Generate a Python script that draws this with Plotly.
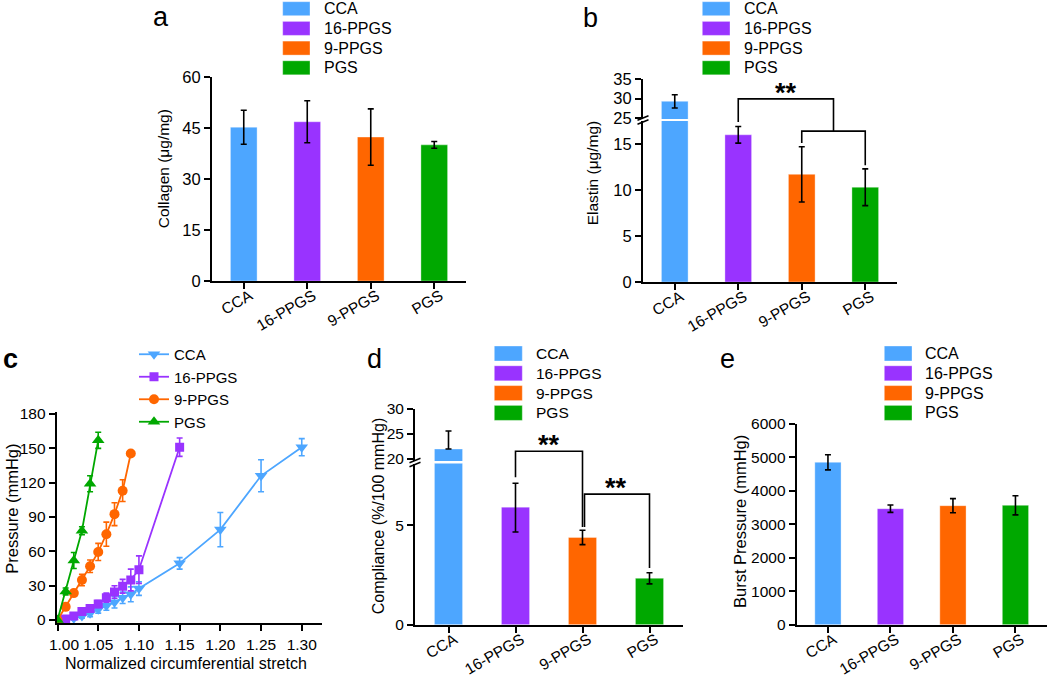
import plotly.graph_objects as go

W, H = 1050, 675
FONT = "Liberation Sans, Arial, sans-serif"

groups = ["CCA", "16-PPGS", "9-PPGS", "PGS"]
colors = ["#4DA6FF", "#9933FF", "#FF6600", "#00A800"]

# a: collagen
collagen = [45.3, 46.9, 42.4, 40.1]
collagen_err = [5.0, 6.2, 8.3, 1.0]

# b: elastin
elastin = [29.3, 16.0, 11.7, 10.3]
elastin_err = [1.7, 0.9, 3.0, 2.0]

# c: pressure vs stretch
stretch_cca = [1.00, 1.01, 1.02, 1.03, 1.04, 1.05, 1.06, 1.07, 1.08, 1.09, 1.10, 1.15, 1.20, 1.25, 1.30]
pressure_cca = [0, 0.5, 1.5, 3.5, 6, 9.5, 12.5, 15.5, 19.5, 22.5, 27.5, 49.5, 79, 126, 151]
pressure_cca_err = [0, 1, 1.5, 2, 3, 3.5, 4, 5, 5, 6.5, 6, 5, 15, 14, 7.5]

stretch_16 = [1.00, 1.01, 1.02, 1.03, 1.04, 1.05, 1.06, 1.07, 1.08, 1.09, 1.10, 1.15]
pressure_16 = [0, 1, 3.5, 7.5, 10, 14, 19.5, 24.5, 29.5, 35, 44, 151]
pressure_16_err = [0, 1, 1.5, 2, 2, 3, 4, 5.5, 6, 9.5, 12, 8]

stretch_9 = [1.00, 1.01, 1.02, 1.03, 1.04, 1.05, 1.06, 1.07, 1.08, 1.09]
pressure_9 = [0, 11.5, 23.5, 35, 47, 59.5, 75, 92.5, 113, 145.5]
pressure_9_err = [0, 2, 2, 5, 5.5, 7.5, 10.5, 10, 9.5, 2]

stretch_pgs = [1.00, 1.01, 1.02, 1.03, 1.04, 1.05]
pressure_pgs = [0, 25, 52, 78, 119, 157]
pressure_pgs_err = [0, 3, 7, 3.5, 7, 7]

# d: compliance
compliance = [22.0, 5.9, 4.38, 2.33]
compliance_err_up = [3.6, 1.2, 0.36, 0.28]
compliance_err_down = [0, 1.25, 0.36, 0.28]

# e: burst pressure
burst = [4855, 3468, 3558, 3569]
burst_err = [225, 110, 210, 285]

positions = list(range(len(groups)))


def fx(x):
    return x / W


def fy(y):
    return 1 - y / H


fig = go.Figure()

edge = "rgba(255,255,255,0.35)"


def add_bars(values, up, down, xa, ya):
    fig.add_trace(go.Bar(
        x=positions, y=values, width=0.42,
        marker=dict(color=colors, line=dict(color=edge, width=1)),
        error_y=dict(type="data", symmetric=False, array=up, arrayminus=down,
                     color="black", thickness=1.6, width=3),
        xaxis=xa, yaxis=ya, showlegend=False, hoverinfo="skip"))


add_bars(collagen, collagen_err, collagen_err, "x", "y")
add_bars(elastin, elastin_err, elastin_err, "x2", "y2")
add_bars(elastin, elastin_err, elastin_err, "x3", "y3")
add_bars(compliance, compliance_err_up, compliance_err_down, "x6", "y6")
add_bars(compliance, compliance_err_up, compliance_err_down, "x7", "y7")
add_bars(burst, burst_err, burst_err, "x9", "y9")

# c: curves
curves = [
    ("CCA", stretch_cca, pressure_cca, pressure_cca_err, "triangle-down", 11),
    ("16-PPGS", stretch_16, pressure_16, pressure_16_err, "square", 9),
    ("9-PPGS", stretch_9, pressure_9, pressure_9_err, "circle", 10),
    ("PGS", stretch_pgs, pressure_pgs, pressure_pgs_err, "triangle-up", 11),
]
for (name, xs, ys, es, sym, size), col in zip(curves, colors):
    fig.add_trace(go.Scatter(
        x=xs, y=ys, name=name, mode="lines+markers",
        line=dict(color=col, width=1.8),
        marker=dict(symbol=sym, size=size, color=col),
        error_y=dict(type="data", array=es, color=col, thickness=1.6, width=3),
        xaxis="x5", yaxis="y5", legend="legend"))

# significance brackets
brackets_b = [
    ([1, 1, 2.5, 2.5], [17.4, 19.9, 19.9, 16.4]),
    ([2, 2, 3, 3], [15.1, 16.4, 16.4, 12.7]),
]
brackets_d = [
    ([1, 1, 2, 2], [7.4, 8.7, 8.7, 4.9]),
    ([2.03, 2.03, 3, 3], [4.9, 6.55, 6.55, 2.85]),
]
for bx, by in brackets_b:
    fig.add_trace(go.Scatter(x=bx, y=by, mode="lines", line=dict(color="black", width=1.6),
                             xaxis="x2", yaxis="y4", showlegend=False, hoverinfo="skip"))
for bx, by in brackets_d:
    fig.add_trace(go.Scatter(x=bx, y=by, mode="lines", line=dict(color="black", width=1.6),
                             xaxis="x6", yaxis="y8", showlegend=False, hoverinfo="skip"))

stars = [("x2", "y4", 1.75, 19.9), ("x6", "y8", 1.5, 8.7), ("x6", "y8", 2.5, 6.55)]

axis_common = dict(showline=True, linecolor="black", linewidth=2, ticks="outside",
                   ticklen=6, tickwidth=2, tickcolor="black", showgrid=False,
                   zeroline=False, automargin=False,
                   tickfont=dict(family=FONT, size=16, color="black"))


def cat_x(x0, x1, anchor, visible=True):
    d = dict(axis_common, domain=[fx(x0), fx(x1)], range=[-0.5, 3.5],
             tickvals=positions, ticktext=groups, tickangle=-30, anchor=anchor,
             ticklabelshift=6, ticklabelstandoff=-8,
             tickfont=dict(family=FONT, size=15.5, color="black"))
    if not visible:
        d.update(visible=False)
    return d


def val_y(y0, y1, rng, ticks, anchor, size=16):
    return dict(axis_common, domain=[fy(y0), fy(y1)], range=rng, tickvals=ticks,
                anchor=anchor, tickfont=dict(family=FONT, size=size, color="black"))


layout = dict(
    width=W, height=H, margin=dict(l=0, r=0, t=0, b=0, autoexpand=False),
    paper_bgcolor="white", plot_bgcolor="rgba(0,0,0,0)",
    font=dict(family=FONT, color="black"),
    barmode="overlay",
    xaxis=cat_x(212, 466, "y"),
    yaxis=val_y(281, 77.3, [0, 60], [0, 15, 30, 45, 60], "x", 16.5),
    xaxis2=cat_x(643, 897, "y2"),
    yaxis2=val_y(282, 121, [0, 17.5], [0, 5, 10, 15], "x2", 16.5),
    xaxis3=cat_x(643, 897, "y3", visible=False),
    yaxis3=val_y(119, 79, [24.8, 35], [25, 30, 35], "x3", 16.5),
    yaxis4=dict(domain=[fy(282), fy(79)], range=[0, 203 / 9.2], visible=False, anchor="x2"),
    xaxis5=dict(axis_common, domain=[fx(56.7), fx(321.7)], range=[0.999, 1.3245],
                tickvals=[1.00, 1.05, 1.10, 1.15, 1.20, 1.25, 1.30],
                ticktext=["\u00a0\u00a0\u00a01.00", "1.05", "1.10", "1.15", "1.20", "1.25", "1.30"],
                tickfont=dict(family=FONT, size=15.5, color="black"), anchor="y5"),
    yaxis5=val_y(623, 411.7, [-2.6, 182], [0, 30, 60, 90, 120, 150, 180], "x5", 15.5),
    xaxis6=cat_x(415, 683, "y6"),
    yaxis6=val_y(624.7, 463.5, [0, 8.09], [0, 5], "x6", 15.5),
    xaxis7=cat_x(415, 683, "y7", visible=False),
    yaxis7=val_y(461, 409, [19.6, 30], [20, 25, 30], "x7", 15.5),
    yaxis8=dict(domain=[fy(624.7), fy(409)], range=[0, 215.7 / 19.93], visible=False, anchor="x6"),
    xaxis9=cat_x(796.7, 1046.7, "y9"),
    yaxis9=val_y(624.7, 424, [0, 6000], [0, 1000, 2000, 3000, 4000, 5000, 6000], "x9", 15.5),
    legend=dict(x=fx(134), y=fy(338), xanchor="left", yanchor="top",
                font=dict(family=FONT, size=15, color="black"),
                bgcolor="rgba(0,0,0,0)", tracegroupgap=0, itemwidth=30),
)
fig.update_layout(**layout)

annotations = []
shapes = []

for xa, ya, sx, sy in stars:
    annotations.append(dict(x=sx, y=sy, xref=xa, yref=ya, text="<b>**</b>", showarrow=False,
                            xanchor="center", yanchor="bottom", yshift=-11,
                            font=dict(family=FONT, size=27, color="black")))

# panel letters
for letter, x, y, bold in [("a", 161, 16.6, False), ("b", 590.5, 17.6, False),
                           ("c", 10, 358.6, True), ("d", 374.5, 358.6, False),
                           ("e", 727.5, 358.6, False)]:
    annotations.append(dict(x=fx(x), y=fy(y), xref="paper", yref="paper",
                            text="<b>%s</b>" % letter if bold else letter, showarrow=False,
                            xanchor="center", yanchor="middle",
                            font=dict(family=FONT, size=27, color="black")))

# axis titles
titles = [
    ("Collagen (\u03bcg/mg)", 163.3, 169, -90, 15.5),
    ("Elastin (\u03bcg/mg)", 593.3, 173, -90, 15.5),
    ("Pressure (mmHg)", 11.7, 509, -90, 16.5),
    ("Normalized circumferential stretch", 186, 663.3, 0, 16),
    ("Compliance (%/100 mmHg)", 378.3, 516, -90, 16),
    ("Burst Pressure (mmHg)", 739.3, 521.7, -90, 16.5),
]
for text, x, y, ang, size in titles:
    annotations.append(dict(x=fx(x), y=fy(y), xref="paper", yref="paper", text=text,
                            textangle=ang, showarrow=False, xanchor="center", yanchor="middle",
                            font=dict(family=FONT, size=size, color="black")))

# bar legends (a, b, d, e)
bar_legends = [
    (282.7, 310, 1.7, 19.7, 14, 322, 16),
    (702.3, 730, 1.7, 19.7, 14, 741.7, 16),
    (494.3, 522.3, 346, 19.8, 15, 534.3, 15.5),
    (884.3, 912, 346, 19.8, 15, 922.7, 16),
]
for x0, x1, top, step, h, tx, size in bar_legends:
    for i, (g, c) in enumerate(zip(groups, colors)):
        y0 = top + i * step
        shapes.append(dict(type="rect", xref="paper", yref="paper",
                           x0=fx(x0), x1=fx(x1), y0=fy(y0 + h), y1=fy(y0),
                           fillcolor=c, line=dict(color=edge, width=1)))
        annotations.append(dict(x=fx(tx), y=fy(y0 + h / 2), xref="paper", yref="paper",
                                text=g, showarrow=False, xanchor="left", yanchor="middle",
                                font=dict(family=FONT, size=size, color="black")))

# axis break marks
for ax_x, mid in [(643, 120), (415, 462.5)]:
    for dy in (-2, 2):
        shapes.append(dict(type="line", xref="paper", yref="paper",
                           x0=fx(ax_x - 5.5), y0=fy(mid + dy + 2.2),
                           x1=fx(ax_x + 5.5), y1=fy(mid + dy - 2.2),
                           line=dict(color="black", width=1.5)))

fig.update_layout(annotations=annotations, shapes=shapes)

# drop the default page margin so the figure sits at the window origin
fig.write_html("out.html", config={"displayModeBar": False},
               post_script="document.body.style.margin='0';")
